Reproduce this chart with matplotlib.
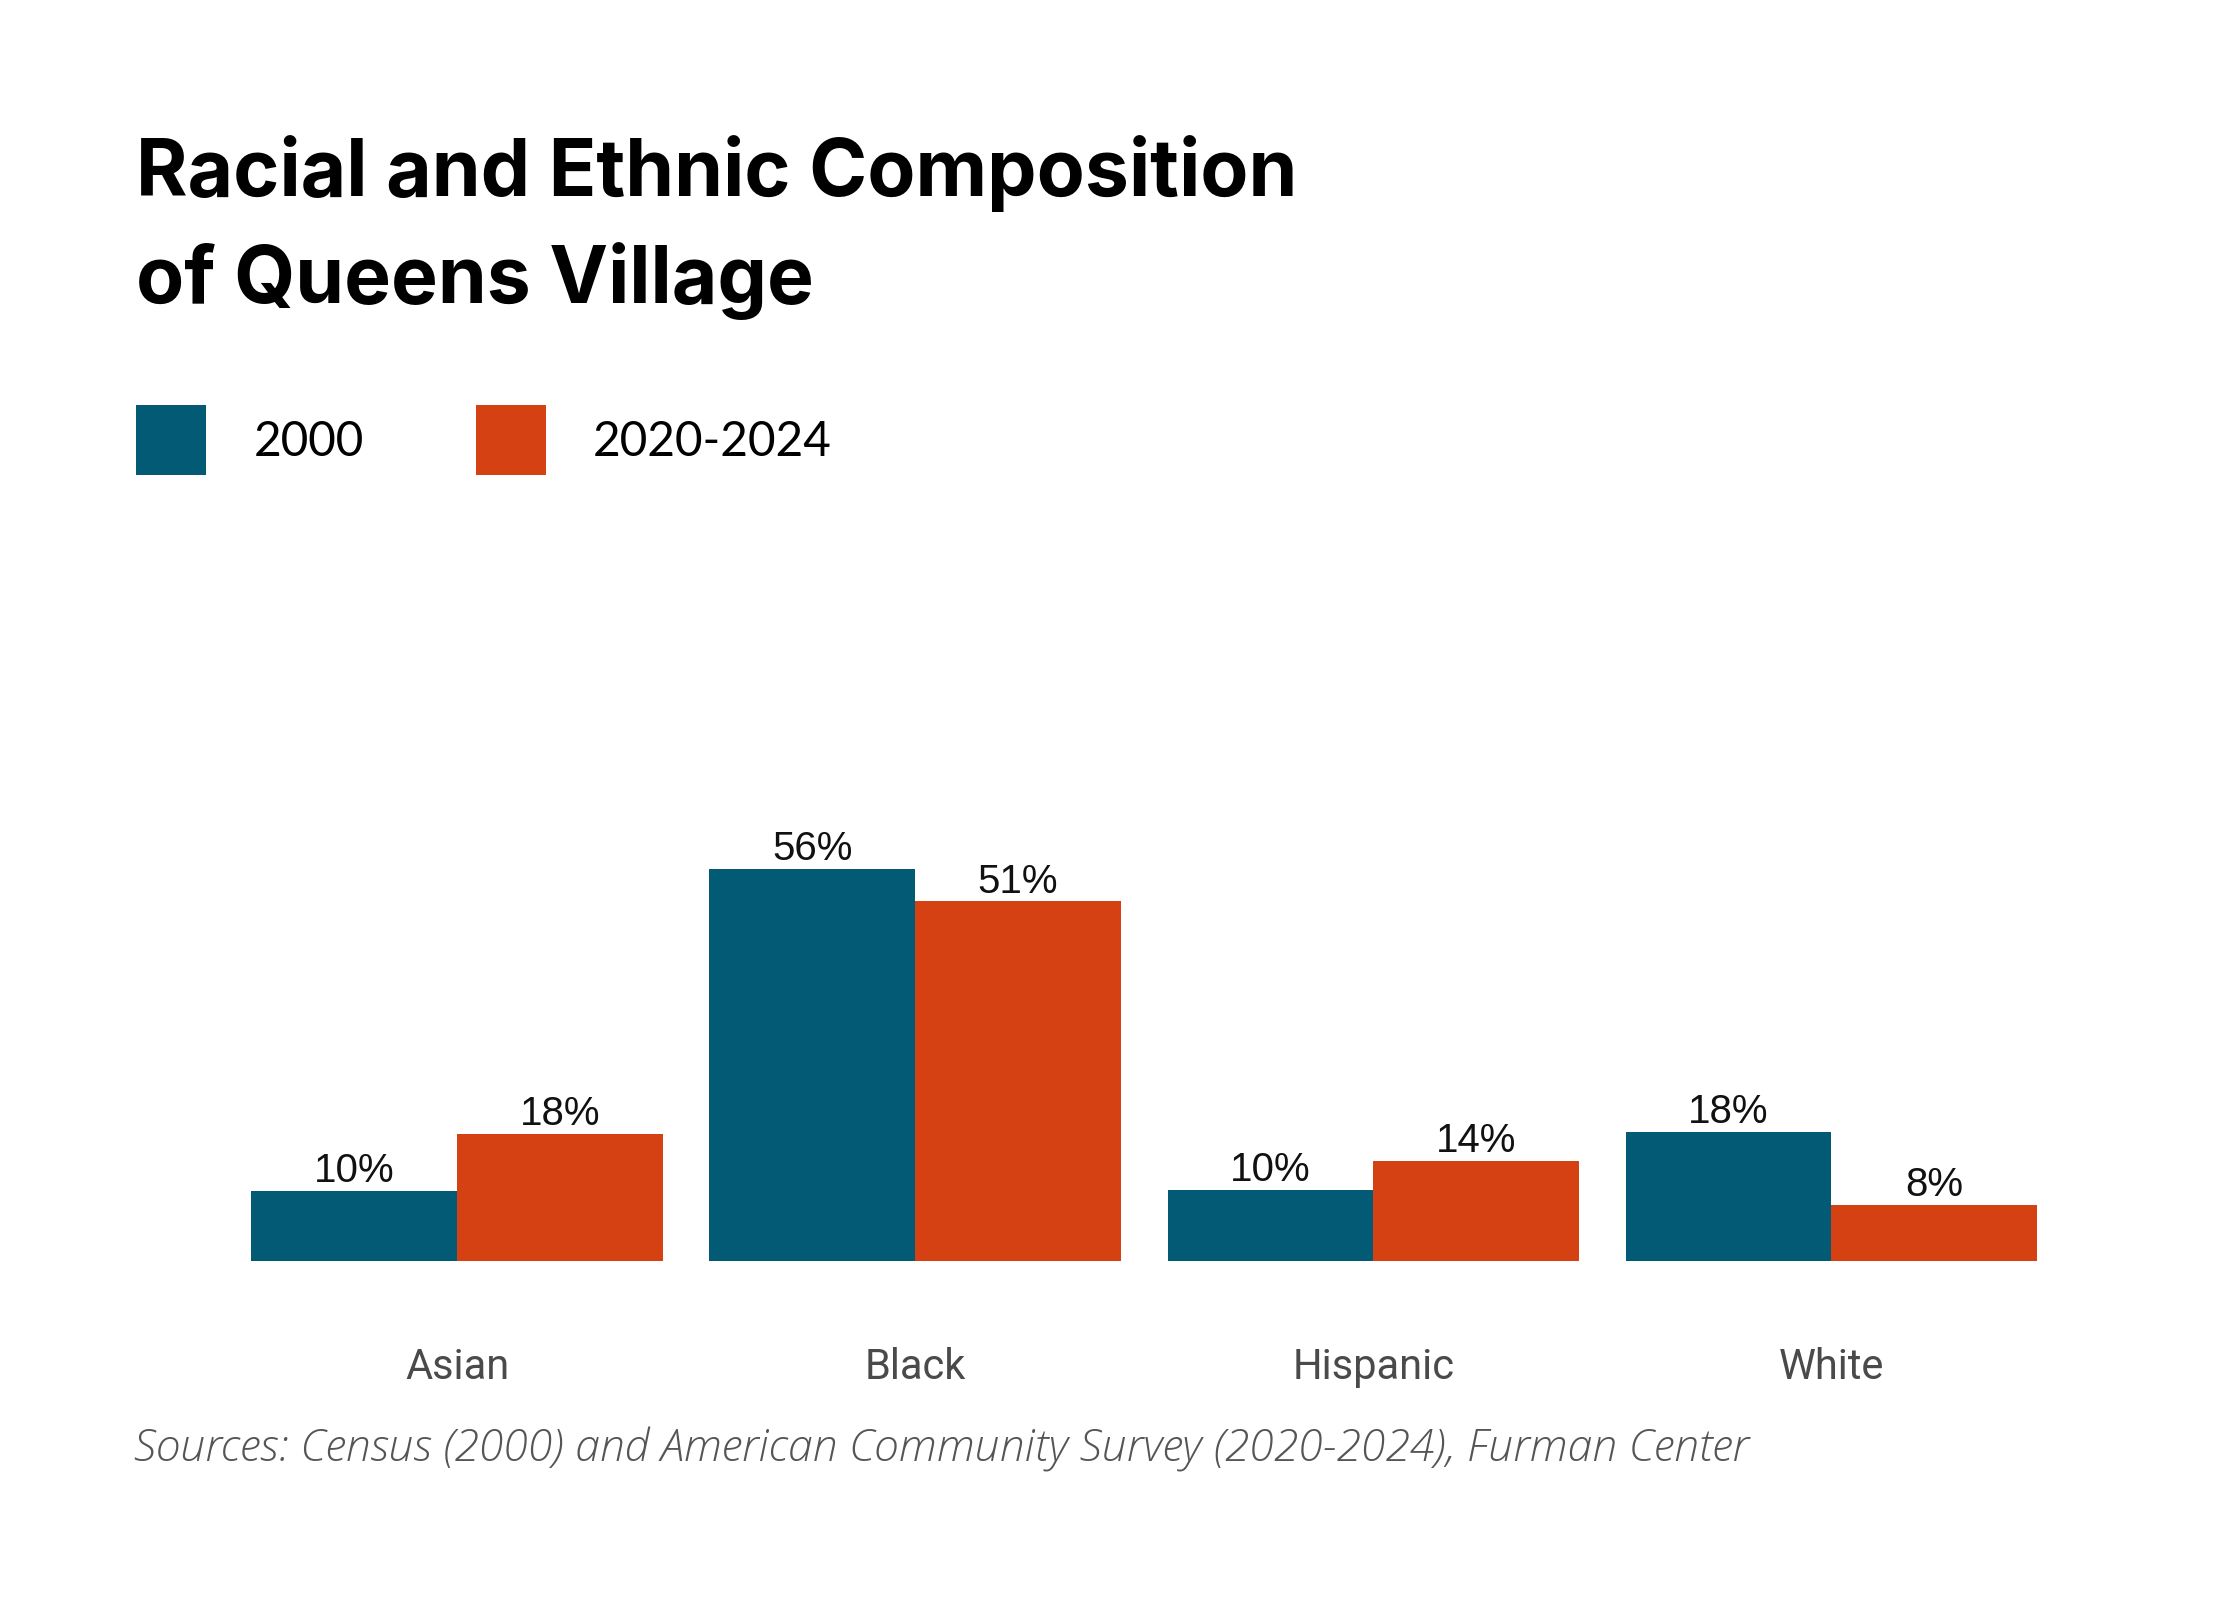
import matplotlib
matplotlib.use("Agg")
import matplotlib.pyplot as plt
from matplotlib.patches import Rectangle
import numpy as np

# ---- data ----
categories = ["Asian", "Black", "Hispanic", "White"]
series_names = ["2000", "2020-2024"]
values_2000 = [10.0, 56.1, 10.2, 18.4]
values_2020 = [18.2, 51.4, 14.3, 8.0]
title_lines = ["Racial and Ethnic Composition", "of Queens Village"]
source_text = "Sources: Census (2000) and American Community Survey (2020-2024), Furman Center"

colors = ["#035a74", "#d64114"]

W, H = 2240, 1600
fig = plt.figure(figsize=(W / 200, H / 200), dpi=200)
fig.patch.set_facecolor("white")

ax = fig.add_axes([0.1122, 0.2119, 0.7972, 0.386])
x = np.arange(len(categories))
bw = 0.449
series = [values_2000, values_2020]
for i, (vals, col) in enumerate(zip(series, colors)):
    offs = (i - 0.5) * bw
    bars = ax.bar(x + offs, vals, width=bw, color=col, linewidth=0)
    for rect, v in zip(bars, vals):
        ax.annotate(f"{v:.0f}%", (rect.get_x() + rect.get_width() / 2, rect.get_height()),
                    xytext=(0, 0.3), textcoords="offset points", ha="center", va="bottom",
                    fontsize=14.5, family="Liberation Sans", color="#111111")

ax.set_xlim(-bw, len(categories) - 1 + bw)
ax.set_ylim(0, 88.3)
ax.set_xticks(x)
ax.set_xticklabels(categories, fontsize=15, family="Roboto", color="#4a4a4a")
ax.tick_params(axis="x", length=0, pad=31)
ax.set_yticks([])
for s in ax.spines.values():
    s.set_visible(False)

# ---- title ----
title_baselines = [1 - 195.7 / H, 1 - 302.7 / H]
for line, yb in zip(title_lines, title_baselines):
    fig.text(136 / W, yb, line, fontsize=28.3, fontweight="bold", family="Inter",
             color="#000000", va="baseline", ha="left")

# ---- legend ----
sq_x = [136 / W, 476 / W]
txt_x = [254 / W, 593 / W]
sq_y = 1 - 475 / H
for name, col, sx, tx in zip(series_names, colors, sq_x, txt_x):
    fig.add_artist(Rectangle((sx, sq_y), 70 / W, 70 / H, transform=fig.transFigure,
                             facecolor=col, edgecolor="none"))
    fig.text(tx, 1 - 456 / H, name, fontsize=17.2, family="Lato", color="#000000",
             va="baseline", ha="left")

# ---- source ----
fig.text(134 / W, 1 - 1461 / H, source_text, fontsize=16, family="Open Sans",
         fontstyle="italic", fontweight="light", color="#555555", va="baseline", ha="left")

fig.savefig("out.png", dpi=200, facecolor="white")
